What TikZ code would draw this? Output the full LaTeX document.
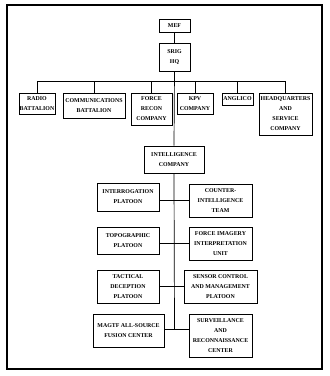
\documentclass[tikz,border=0pt]{standalone}
\usepackage{fontspec}
\setmainfont{Liberation Serif}
\begin{document}
\begin{tikzpicture}[x=1pt, y=-1pt,
  unit/.style={draw, line width=0.7pt, inner sep=0pt, align=center,
    font=\fontsize{5.9}{10}\selectfont\bfseries},
  link/.style={line width=0.7pt}]
  \useasboundingbox (0,0) rectangle (330,376);
  % Rahmen
  \draw[line width=1.3pt] (7,5) rectangle (322,369);
  % Kopf
  \node[unit, minimum width=31pt, minimum height=13pt] (mef) at (174.5,25.5) {MEF};
  \node[unit, minimum width=31pt, minimum height=28pt] (srig) at (174.5,57) {SRIG\\HQ};
  % Bataillone und Kompanien
  \node[unit, minimum width=36pt, minimum height=21pt] (radio) at (37,103.5) {RADIO\\BATTALION};
  \node[unit, minimum width=62pt, minimum height=25pt] (comm) at (94,105.5) {COMMUNICATIONS\\BATTALION};
  \node[unit, minimum width=41pt, minimum height=32pt] (recon) at (151.5,109) {FORCE\\RECON\\COMPANY};
  \node[unit, minimum width=36pt, minimum height=21pt] (kpv) at (195,103.5) {KPV\\COMPANY};
  \node[unit, minimum width=31pt, minimum height=12pt] (anglico) at (237.5,99) {ANGLICO};
  \node[unit, minimum width=53pt, minimum height=42pt] (hqsc) at (285.5,114) {HEADQUARTERS\\AND\\SERVICE\\COMPANY};
  % Nachrichtenkompanie
  \node[unit, minimum width=60pt, minimum height=27pt] (intel) at (174,159.5) {INTELLIGENCE\\COMPANY};
  \node[unit, minimum width=62pt, minimum height=28pt] (interrog) at (128,197) {INTERROGATION\\PLATOON};
  \node[unit, minimum width=63pt, minimum height=33pt] (ci) at (220.5,200.5) {COUNTER-\\INTELLIGENCE\\TEAM};
  \node[unit, minimum width=62pt, minimum height=27pt] (topo) at (128,240.5) {TOPOGRAPHIC\\PLATOON};
  \node[unit, minimum width=63pt, minimum height=33pt] (fiiu) at (220.5,243.5) {FORCE IMAGERY\\INTERPRETATION\\UNIT};
  \node[unit, minimum width=62pt, minimum height=33pt] (tdp) at (128,286.5) {TACTICAL\\DECEPTION\\PLATOON};
  \node[unit, minimum width=73pt, minimum height=33pt] (scm) at (220.5,286.5) {SENSOR CONTROL\\AND MANAGEMENT\\PLATOON};
  \node[unit, minimum width=71pt, minimum height=33pt] (magtf) at (128.5,330.5) {MAGTF ALL-SOURCE\\FUSION CENTER};
  \node[unit, minimum width=63pt, minimum height=43pt] (src) at (220.5,335.5) {SURVEILLANCE\\AND\\RECONNAISSANCE\\CENTER};
  % Verbindungen
  \coordinate (busL) at (37,81);
  \coordinate (busR) at (285.5,81);
  \coordinate (tail) at (174.5,329);
  \draw[link] (mef) -- (srig);
  \draw[link] (busL) -- (busR);
  \foreach \u in {radio, comm, recon, kpv, anglico, hqsc}{
    \draw[link] (\u.north) -- (\u.north |- busL);
  }
  \draw[link] (srig.south) -- (intel.north);
  \draw[link] (intel.south) -- (tail);
  \draw[link] (interrog.east |- ci.west) -- (ci.west);
  \draw[link] (topo.east |- fiiu.west) -- (fiiu.west);
  \draw[link] (tdp.east) -- (scm.west);
  \draw[link] (magtf.east |- tail) -- (src.west |- tail);
\end{tikzpicture}
\end{document}
